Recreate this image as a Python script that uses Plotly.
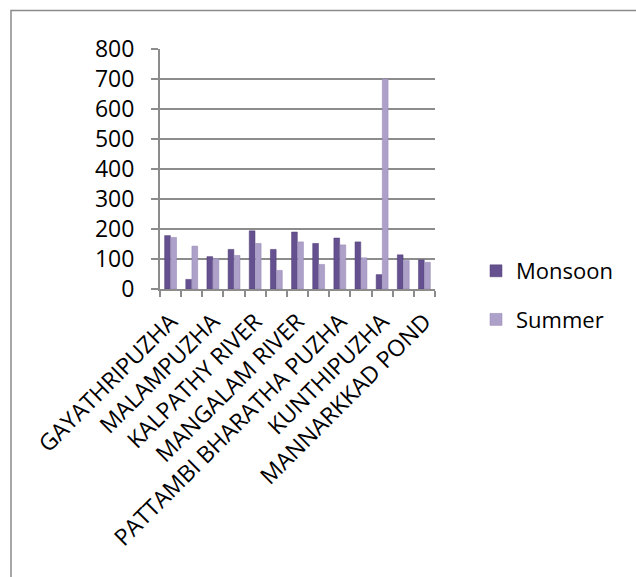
import plotly.graph_objects as go

# Data
label_positions = [0, 2, 4, 6, 8, 10, 12]
tick_labels = ["GAYATHRIPUZHA", "MALAMPUZHA", "KALPATHY RIVER", "MANGALAM RIVER",
               "PATTAMBI BHARATHA PUZHA", "KUNTHIPUZHA", "MANNARKKAD POND"]
positions = list(range(13))
monsoon = [178, 32, 108, 132, 194, 132, 190, 152, 170, 157, 48, 114, 97]
summer = [172, 143, 101, 112, 152, 62, 157, 82, 147, 104, 700, 95, 89]
y_ticks = [0, 100, 200, 300, 400, 500, 600, 700, 800]

W, H = 636, 577
L, R, T, B = 160, 201, 49, 288
pw, ph = W - L - R, H - T - B

def px2x(px):
    return (px - L) / pw

def py2y(py):
    return (H - B - py) / ph

FONT = "Open Sans"
GRID = "#8c8c8c"

fig = go.Figure()
fig.add_trace(go.Bar(x=positions, y=monsoon, name="Monsoon",
                     marker=dict(color="#65518f", line=dict(color="#4e3d75", width=0.5)),
                     legendgroup="a"))
fig.add_trace(go.Bar(x=positions, y=summer, name="Summer",
                     marker=dict(color="#ada0c9", line=dict(color="#9486b5", width=0.5)),
                     legendgroup="b"))

fig.update_layout(
    width=W, height=H,
    margin=dict(l=L, r=R, t=T, b=B, autoexpand=False),
    paper_bgcolor="white", plot_bgcolor="white",
    barmode="group", bargap=0.42, bargroupgap=0.06,
    font=dict(family=FONT, size=22, color="black"),
    legend=dict(x=px2x(476), y=py2y(250), xanchor="left", yanchor="top",
                traceorder="grouped", tracegroupgap=17,
                font=dict(family=FONT, size=22, color="black"),
                bgcolor="rgba(0,0,0,0)"),
    xaxis=dict(range=[-0.5, 12.5], tickmode="array", tickvals=label_positions,
               ticktext=tick_labels, tickangle=-45, ticks="", showgrid=False,
               showline=True, linecolor=GRID, linewidth=2,
               tickfont=dict(family=FONT, size=23, color="black"),
               minor=dict(tick0=-0.5, dtick=1, ticks="outside", ticklen=6,
                          tickcolor=GRID, tickwidth=2, showgrid=False),
               ticklabelstandoff=8, zeroline=False),
    yaxis=dict(range=[0, 800], tickmode="array", tickvals=y_ticks,
               showgrid=True, gridcolor=GRID, gridwidth=2,
               showline=True, linecolor=GRID, linewidth=2,
               ticks="outside", ticklen=7, tickcolor=GRID, tickwidth=2,
               ticklabelstandoff=12, zeroline=False,
               tickfont=dict(family=FONT, size=23, color="black")),
    shapes=[dict(type="rect", xref="paper", yref="paper",
                 x0=px2x(11), x1=px2x(660), y0=py2y(600), y1=py2y(10.5),
                 line=dict(color="#8a8a8a", width=1.5), layer="below")],
)

fig.write_html("out.html")
